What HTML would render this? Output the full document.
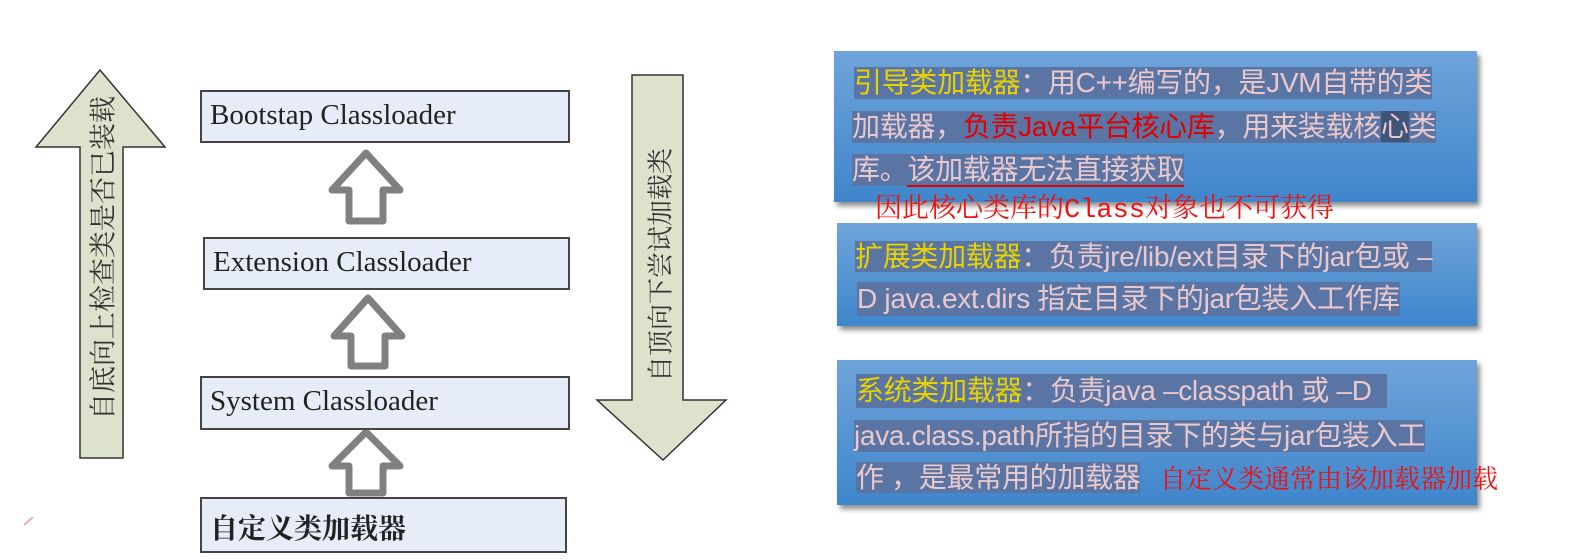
<!DOCTYPE html>
<html><head><meta charset="utf-8"><style>
body{margin:0;width:1577px;height:559px;background:#fff;position:relative;overflow:hidden;font-family:"Liberation Sans","Noto Sans CJK SC",sans-serif}
.box{position:absolute;background:#e7edf8;border:2px solid #444;box-sizing:border-box;font-family:"Liberation Serif","Noto Serif CJK SC",serif;font-size:29px;color:#222;padding-left:8px;line-height:46px}
.panel{position:absolute;background:linear-gradient(#6fa4da,#3f86cc);box-shadow:3px 4px 5px rgba(0,0,0,.45)}
.ln{position:absolute;white-space:nowrap;font-size:28px;color:#e9c9cd;background:#5a74a3;line-height:32px;height:32px;letter-spacing:-0.3px}
.y{color:#e8d200}.r{color:#e00000}
.red{position:absolute;white-space:nowrap;color:#f01010;font-family:"Liberation Mono","Noto Serif CJK SC",serif;font-size:27px}
.vt{position:absolute;white-space:nowrap;font-family:"Liberation Serif","Noto Serif CJK SC",serif;color:#333;transform:translate(-50%,-50%) rotate(-90deg)}
</style></head><body>
<svg width="1577" height="559" style="position:absolute;left:0;top:0">
<polygon points="100,70 165,147 123,147 123,458 80,458 80,147 36,147" fill="#dde2cc" stroke="#333" stroke-width="1.5"/>
<polygon points="632,75 683,75 683,400 726,400 663,460 597,400 632,400" fill="#dde2cc" stroke="#333" stroke-width="1.5"/>
<g fill="none" stroke="#808080" stroke-width="7" stroke-linejoin="round">
<polygon points="366,153 400,190 383,190 383,221 349,221 349,190 332,190"/>
<polygon points="368,298 402,336 385,336 385,366 351,366 351,336 334,336"/>
<polygon points="366,432 400,466 383,466 383,493 349,493 349,466 332,466"/>
</g>
<line x1="24" y1="525" x2="33" y2="517" stroke="#e8b0b0" stroke-width="2"/>
</svg>
<div class="vt" style="left:101px;top:258px;font-size:27px">自底向上检查类是否已装载</div>
<div class="vt" style="left:659px;top:265px;font-size:26px">自顶向下尝试加载类</div>
<div class="box" style="left:200px;top:90px;width:370px;height:53px">Bootstap Classloader</div>
<div class="box" style="left:203px;top:237px;width:367px;height:53px">Extension Classloader</div>
<div class="box" style="left:200px;top:376px;width:370px;height:54px">System Classloader</div>
<div class="box" style="left:200px;top:497px;width:367px;height:56px;font-family:'Noto Serif CJK SC',serif;font-weight:bold;font-size:28px;line-height:56px">自定义类加载器</div>

<div class="panel" style="left:834px;top:51px;width:643px;height:151px"></div>
<div class="panel" style="left:837px;top:223px;width:640px;height:103px"></div>
<div class="panel" style="left:837px;top:360px;width:640px;height:145px"></div>

<div class="ln" style="left:854px;top:67px"><span class="y">引导类加载器</span>：用C++编写的，是JVM自带的类</div>
<div class="ln" style="left:852px;top:111px">加载器，<span class="r">负责Java平台核心库</span>，用来装载核<span style="background:#3e5478">心</span>类</div>
<div class="ln" style="left:852px;top:154px">库。<span style="border-bottom:2px solid #e00000">该加载器无法直接获取</span></div>
<div class="red" style="left:875px;top:186px">因此核心类库的Class对象也不可获得</div>

<div class="ln" style="left:855px;top:241px;height:31px"><span class="y">扩展类加载器</span>：负责jre/lib/ext目录下的jar包或 –</div>
<div class="ln" style="left:857px;top:282px;height:34px;line-height:34px">D java.ext.dirs 指定目录下的jar包装入工作库</div>

<div class="ln" style="left:856px;top:374px;height:34px;line-height:34px"><span class="y">系统类加载器</span>：负责java –classpath 或 –D&nbsp;&nbsp;</div>
<div class="ln" style="left:854px;top:420px">java.class.path所指的目录下的类与jar包装入工</div>
<div class="ln" style="left:856px;top:462px;height:31px">作 ，是最常用的加载器</div>
<div class="red" style="left:1160px;top:459px;font-family:'Noto Serif CJK SC',serif;font-size:26px">自定义类通常由该加载器加载</div>
</body></html>
